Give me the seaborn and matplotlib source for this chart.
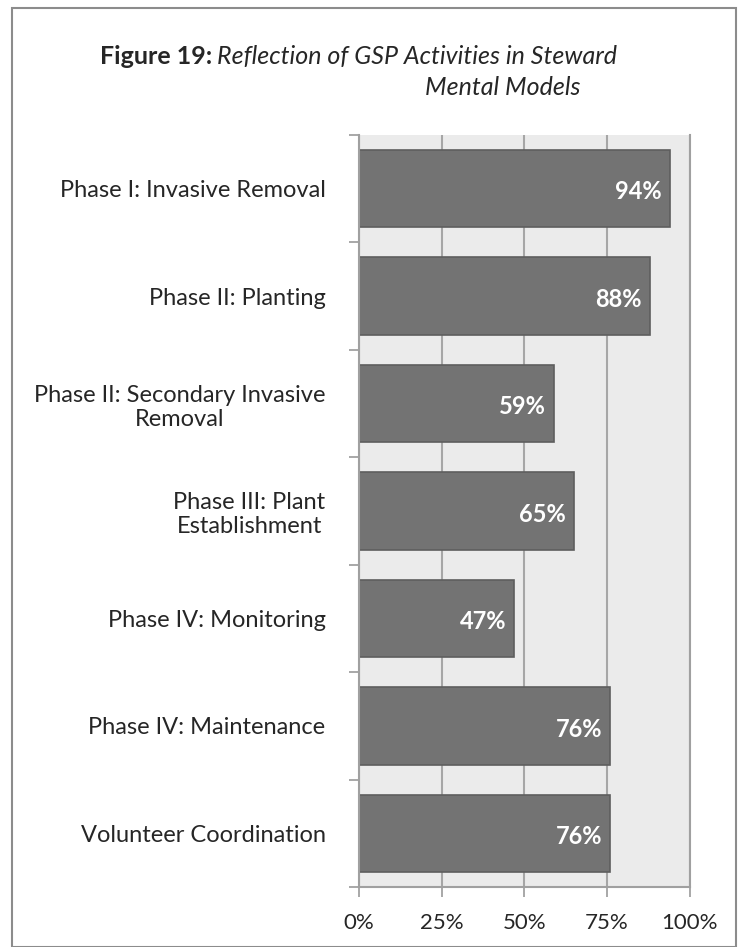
import matplotlib.pyplot as plt
import pandas as pd
import seaborn as sns
from matplotlib.patches import Rectangle
from matplotlib.ticker import FixedLocator

categories = ['Phase I: Invasive Removal',
              'Phase II: Planting',
              'Phase II: Secondary Invasive\nRemoval',
              'Phase III: Plant\nEstablishment',
              'Phase IV: Monitoring',
              'Phase IV: Maintenance',
              'Volunteer Coordination']
values = [94, 88, 59, 65, 47, 76, 76]
xticks = [0, 25, 50, 75, 100]
xtick_labels = ['0%', '25%', '50%', '75%', '100%']

df = pd.DataFrame({'activity': categories, 'pct': values})

sns.set_style('white')
plt.rcParams['font.family'] = ['Lato', 'DejaVu Sans']

fig = plt.figure(figsize=(7.4, 9.47), dpi=100)
ax = fig.add_axes([0.485, 0.0634, 0.447, 0.794])
ax.set_facecolor('#ebebeb')

#Bar graphic
sns.barplot(x='pct', y='activity', data=df, orient='h', color='#737373',
            saturation=1, width=0.72, edgecolor='#5e5e5e', linewidth=1.2, ax=ax)

for i, v in enumerate(values):
    ax.text(v - 2.4, i + 0.03, f'{v}%', ha='right', va='center', color='white',
            fontsize=17, fontweight='bold')

ax.set_xlim(0, 100)
ax.set_ylim(6.5, -0.5)
ax.set_xticks(xticks)
ax.set_xticklabels(xtick_labels, fontsize=16)
ax.set_yticks(range(len(categories)))
ax.set_yticklabels(categories, fontsize=17, multialignment='center')
ax.yaxis.set_minor_locator(FixedLocator([i - 0.5 for i in range(len(categories) + 1)]))
ax.tick_params(axis='y', which='major', length=0, pad=24)
ax.tick_params(axis='y', which='minor', length=7, width=1.2, color='#9a9a9a', left=True)
ax.tick_params(axis='x', length=7, width=1.2, color='#9a9a9a', bottom=True, pad=12)
ax.set_xlabel('')
ax.set_ylabel('')

ax.grid(axis='x', color='#a6a6a6', linewidth=1.5)
ax.set_axisbelow(True)
for side in ['left', 'bottom', 'right']:
    ax.spines[side].set_visible(True)
    ax.spines[side].set_color('#a0a0a0')
    ax.spines[side].set_linewidth(1.5)
ax.spines['top'].set_visible(False)

#Title: bold lead-in followed by italic text
t1 = fig.text(0.135, 0.94, 'Figure 19:', fontsize=18, fontweight='bold',
              ha='left', va='center')
fig.canvas.draw()
bb = t1.get_window_extent()
fig.text(bb.x1 / fig.bbox.width + 0.007, 0.94,
         'Reflection of GSP Activities in Steward', fontsize=18,
         style='italic', ha='left', va='center')
fig.text(0.68, 0.908, 'Mental Models', fontsize=18, style='italic',
         ha='center', va='center')

fig.patches.append(Rectangle((0.016, 0.0), 0.978, 0.992, transform=fig.transFigure,
                             fill=False, edgecolor='#8c8c8c', linewidth=1.5))

plt.savefig('out.png', dpi=100)
